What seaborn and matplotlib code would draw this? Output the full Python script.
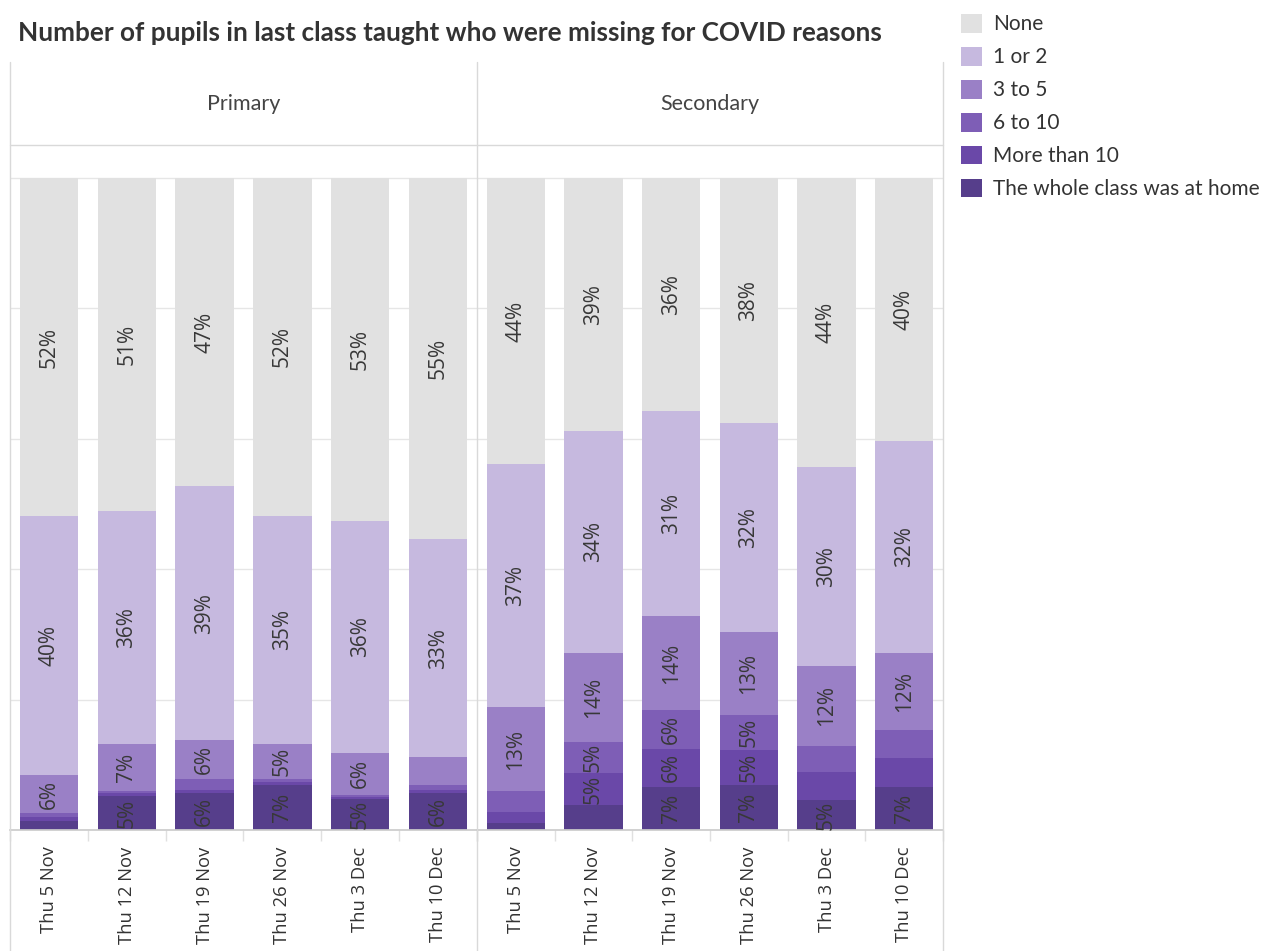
import seaborn as sns
import matplotlib.pyplot as plt
import pandas as pd
import numpy as np
from matplotlib.patches import Patch
from matplotlib.lines import Line2D

# categories
dates = ['Thu 5 Nov', 'Thu 12 Nov', 'Thu 19 Nov', 'Thu 26 Nov', 'Thu 3 Dec', 'Thu 10 Dec']
phases = ['Primary', 'Secondary']
# stacked from the bottom up
responses = ['The whole class was at home', 'More than 10', '6 to 10', '3 to 5', '1 or 2', 'None']

# percentages
primary_whole = [1.4, 5.2, 5.7, 6.9, 4.7, 5.6]
primary_more10 = [0.6, 0.4, 0.5, 0.4, 0.3, 0.6]
primary_6to10 = [0.6, 0.4, 1.6, 0.5, 0.4, 0.7]
primary_3to5 = [5.8, 7.2, 6.0, 5.4, 6.4, 4.3]
primary_1or2 = [39.7, 35.8, 38.9, 35.0, 35.6, 33.4]
primary_none = [51.9, 51.0, 47.3, 51.8, 52.6, 55.4]

secondary_whole = [1.1, 3.8, 6.6, 6.9, 4.6, 6.6]
secondary_more10 = [1.6, 4.9, 5.9, 5.4, 4.3, 4.4]
secondary_6to10 = [3.3, 4.8, 5.9, 5.3, 4.0, 4.3]
secondary_3to5 = [12.8, 13.7, 14.4, 12.7, 12.3, 11.9]
secondary_1or2 = [37.3, 34.0, 31.4, 32.1, 30.4, 32.4]
secondary_none = [43.9, 38.8, 35.8, 37.6, 44.4, 40.4]

colors = {
    'None': '#e1e1e1',
    '1 or 2': '#c6b9df',
    '3 to 5': '#9a80c6',
    '6 to 10': '#7e5eb6',
    'More than 10': '#6a48a8',
    'The whole class was at home': '#563e8b',
}

series = {
    'Primary': [primary_whole, primary_more10, primary_6to10, primary_3to5, primary_1or2, primary_none],
    'Secondary': [secondary_whole, secondary_more10, secondary_6to10, secondary_3to5, secondary_1or2, secondary_none],
}

rows = []
for phase in phases:
    for resp, vals in zip(responses, series[phase]):
        for d, v in zip(dates, vals):
            rows.append({'phase': phase, 'date': d, 'response': resp, 'value': v})
df = pd.DataFrame(rows)
df['response'] = pd.Categorical(df['response'], categories=responses, ordered=True)
df = df.sort_values(['phase', 'date', 'response'])
df['top'] = df.groupby(['phase', 'date'])['value'].cumsum()

sns.set_theme(style='white')
plt.rcParams['font.family'] = ['Lato', 'DejaVu Sans']

W, H = 1263, 951
fig = plt.figure(figsize=(W / 100, H / 100), dpi=100)


def fx(px):
    return px / W


def fy(py):
    return 1 - py / H


line_col = '#d9d9d9'
label_font = ['Open Sans', 'DejaVu Sans']
edges = [(10, 477), (477, 943)]
for (left, right), phase in zip(edges, phases):
    ax = fig.add_axes([fx(left), fy(830), (right - left) / W, (830 - 145) / H])
    sub = df[df['phase'] == phase]
    # draw cumulative layers top-down so each one covers the one above
    for resp in reversed(responses):
        layer = sub[sub['response'] == resp]
        sns.barplot(data=layer, x='date', y='top', order=dates, color=colors[resp],
                    width=0.75, saturation=1, errorbar=None, linewidth=0, ax=ax)
    for _, r in sub.iterrows():
        if r['value'] >= 4.5:
            ax.text(dates.index(r['date']), r['top'] - r['value'] / 2, f"{r['value']:.0f}%",
                    rotation=90, ha='center', va='center', fontsize=15,
                    family=label_font, color='#383838')
    ax.set_xlim(-0.5, 5.5)
    ax.set_ylim(0, 100 * 685 / 652)
    ax.set_yticks([0, 20, 40, 60, 80, 100])
    ax.set_yticklabels([])
    ax.yaxis.grid(True, color='#e6e6e6', linewidth=1)
    ax.set_axisbelow(True)
    ax.set_xlabel('')
    ax.set_ylabel('')
    ax.set_xticks(range(len(dates)))
    ax.set_xticklabels(dates, rotation=90, fontsize=13.2, family=label_font,
                       color='#333333', va='top')
    ax.set_xticks(np.arange(-0.5, 6, 1), minor=True)
    ax.tick_params(axis='x', which='major', length=0, pad=12)
    ax.tick_params(axis='x', which='minor', length=8, color='#e0e0e0', width=1, bottom=True)
    ax.tick_params(axis='y', length=0)
    for s in ['top', 'left', 'right']:
        ax.spines[s].set_visible(False)
    ax.spines['bottom'].set_color('#cccccc')
    fig.text(fx((left + right) / 2), fy(104), phase, ha='center', va='center',
             fontsize=15.5, color='#444444')

# facet frame lines
for x in [10, 477, 943]:
    fig.add_artist(Line2D([fx(x), fx(x)], [fy(62), fy(951)], color=line_col, linewidth=1))
fig.add_artist(Line2D([fx(10), fx(943)], [fy(145), fy(145)], color=line_col, linewidth=1))

fig.text(fx(18), fy(33), 'Number of pupils in last class taught who were missing for COVID reasons',
         ha='left', va='center', fontsize=18.8, fontweight='bold', color='#333333')

handles = [Patch(facecolor=colors[r], edgecolor='none', label=r) for r in reversed(responses)]
fig.legend(handles=handles, loc='upper left', bbox_to_anchor=(fx(961), fy(14)), frameon=False,
           fontsize=15, handlelength=1.0, handleheight=1.0, labelspacing=0.6,
           handletextpad=0.55, borderaxespad=0, borderpad=0, labelcolor='#333333')

fig.savefig('out.png', dpi=100)
